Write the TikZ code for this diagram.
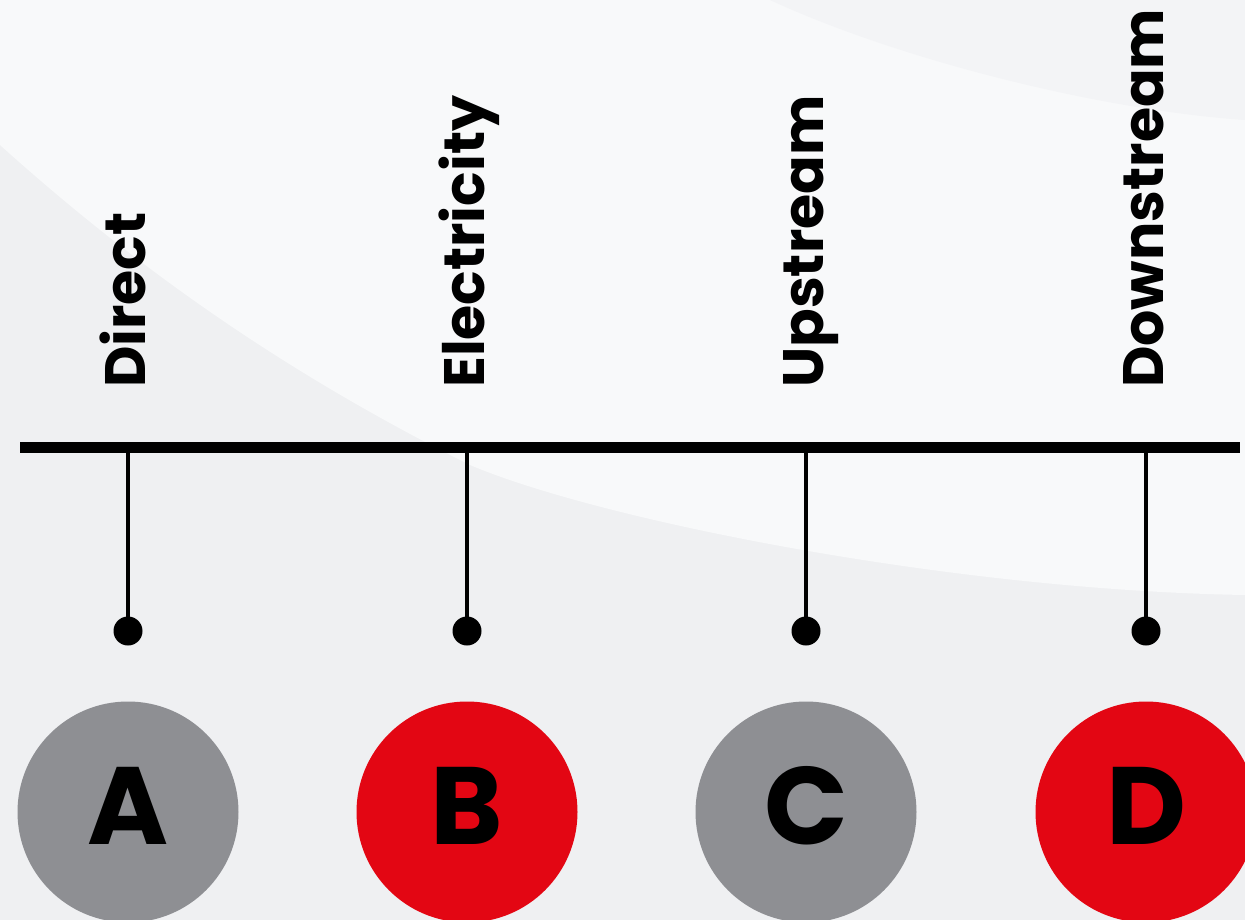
\documentclass[tikz,border=0pt]{standalone}
\usepackage{fontspec}
\newfontfamily\popfont{Poppins}
\definecolor{bgA}{HTML}{EFF0F2}
\definecolor{bgB}{HTML}{F8F9FA}
\definecolor{bgC}{HTML}{F3F4F6}
\definecolor{cgray}{HTML}{8E8F93}
\definecolor{cred}{HTML}{E30613}
\tikzset{
  bus/.style={line width=11pt, black},
  stem/.style={line width=4.5pt, black},
  dotmark/.style={circle, fill=black, minimum size=29pt, inner sep=0pt},
  bigcirc/.style={circle, minimum size=221pt, inner sep=0pt},
  letter/.style={inner sep=0pt, font=\popfont\bfseries\fontsize{110}{110}\selectfont, text=black},
  lbl/.style={rotate=90, anchor=base west, inner sep=0pt, font=\popfont\bfseries\fontsize{57}{57}\selectfont, text=black}
}
\begin{document}
\begin{tikzpicture}[x=1pt,y=-1pt]
\useasboundingbox (0,0) rectangle (1245,920);
\fill[bgA] (0,0) rectangle (1245,920);
\fill[bgB] (0,0) -- (1245,0) -- (1245,595) .. controls (950,590) and (600,520) .. (470,465) .. controls (300,380) and (150,280) .. (0,145) -- cycle;
\fill[bgC] (770,0) .. controls (900,60) and (1100,110) .. (1245,120) -- (1245,0) -- cycle;
\coordinate (L) at (20,447);
\coordinate (R) at (1240,447);
\draw[bus] (L) -- (R);
\foreach \x/\n/\c/\t in {128/A/cgray/Direct,467/B/cred/Electricity,806/C/cgray/Upstream,1146/D/cred/Downstream}{
  \coordinate (top\n) at (\x,447);
  \node[dotmark] (dot\n) at (\x,631) {};
  \draw[stem] (top\n) -- (dot\n.center);
  \node[bigcirc, fill=\c] (c\n) at (\x,812) {};
  \node[letter] (t\n) at (\x,806) {\n};
  \node[lbl] (l\n) at (\x+17,388) {\t};
}
\end{tikzpicture}
\end{document}
